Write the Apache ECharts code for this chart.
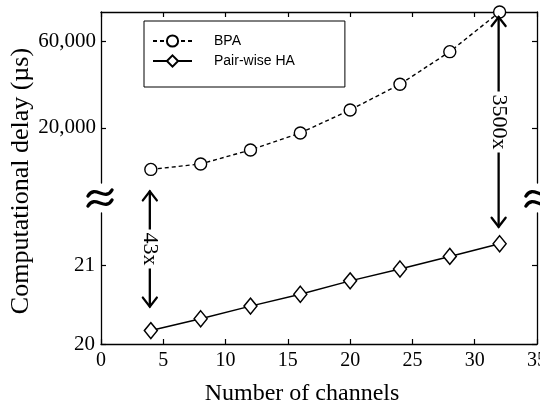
<!DOCTYPE html>
<html><head><meta charset="utf-8">
<script src="https://cdn.jsdelivr.net/npm/echarts@6/dist/echarts.min.js"></script>
<style>html,body{margin:0;padding:0;background:#fff}#c{width:540px;height:408px}</style>
</head><body><div id="c"></div>
<script>
const channels = [4, 8, 12, 16, 20, 24, 28, 32];
const bpa = [870, 3390, 9850, 17700, 28300, 40150, 55200, 73500];
const pairwiseHA = [20.17, 20.32, 20.48, 20.63, 20.80, 20.95, 21.11, 21.27];
const topYTicks = [20000, 60000];
const bottomYTicks = [20, 21];
const ratioLabels = ['43x', '3500x'];

const SERIF = '"Liberation Serif","Times New Roman",serif';
const chart = echarts.init(document.getElementById('c'), null, {renderer: 'canvas'});
const lineStyle = {color: '#000', width: 1.3};
const tickIn = {show: true, inside: true, length: 5, lineStyle: {color: '#000', width: 1.2}};
function fmt(v) { return String(v).replace(/\B(?=(\d{3})+(?!\d))/g, ','); }

const baseX = {type: 'value', min: 0, max: 35, interval: 5, splitLine: {show: false},
  axisLine: {show: true, onZero: false, lineStyle: lineStyle}, axisTick: tickIn};

chart.setOption({
  backgroundColor: '#fff',
  animation: false,
  grid: [
    {left: 101, right: 3, top: 12, height: 171, outerBoundsMode: 'none', containLabel: false},
    {left: 101, right: 3, top: 213, height: 131, outerBoundsMode: 'none', containLabel: false}
  ],
  xAxis: [
    Object.assign({}, baseX, {gridIndex: 0, position: 'top', axisLabel: {show: false}}),
    Object.assign({}, baseX, {gridIndex: 1, position: 'bottom',
      axisLabel: {show: true, color: '#000', fontFamily: SERIF, fontSize: 20, margin: 7}})
  ],
  yAxis: [
    {type: 'value', gridIndex: 0, position: 'left', min: -5400, max: 73500, splitLine: {show: false},
      axisLine: {show: true, onZero: false, lineStyle: lineStyle},
      axisTick: Object.assign({}, tickIn, {customValues: topYTicks}),
      axisLabel: {customValues: topYTicks, formatter: fmt, color: '#000', fontFamily: SERIF, fontSize: 21, margin: 5}},
    {type: 'value', gridIndex: 0, position: 'right', min: -5400, max: 73500, splitLine: {show: false},
      axisLine: {show: true, onZero: false, lineStyle: lineStyle},
      axisTick: Object.assign({}, tickIn, {customValues: topYTicks}),
      axisLabel: {show: false}},
    {type: 'value', gridIndex: 1, position: 'left', min: 20, max: 21.66, splitLine: {show: false},
      axisLine: {show: true, onZero: false, lineStyle: lineStyle},
      axisTick: Object.assign({}, tickIn, {customValues: bottomYTicks}),
      axisLabel: {customValues: bottomYTicks, color: '#000', fontFamily: SERIF, fontSize: 21, margin: 6}},
    {type: 'value', gridIndex: 1, position: 'right', min: 20, max: 21.66, splitLine: {show: false},
      axisLine: {show: true, onZero: false, lineStyle: lineStyle},
      axisTick: Object.assign({}, tickIn, {customValues: bottomYTicks}),
      axisLabel: {show: false}}
  ],
  legend: {
    left: 144, top: 21, orient: 'vertical', itemWidth: 39, itemHeight: 14, itemGap: 6,
    padding: [13, 50, 19, 8], borderColor: '#000', borderWidth: 1, backgroundColor: '#fff',
    textStyle: {color: '#000', fontFamily: '"Liberation Sans",Arial,sans-serif', fontSize: 14, padding: [0, 0, 0, 17]},
    data: ['BPA', 'Pair-wise HA']
  },
  series: [
    {name: 'BPA', type: 'line', xAxisIndex: 0, yAxisIndex: 0, clip: false,
      data: channels.map((c, i) => [c, bpa[i]]),
      symbol: 'circle', symbolSize: 12,
      lineStyle: {color: '#000', width: 1.4, type: [4, 3]},
      itemStyle: {color: '#fff', borderColor: '#000', borderWidth: 1.4}},
    {name: 'Pair-wise HA', type: 'line', xAxisIndex: 1, yAxisIndex: 2, clip: false,
      data: channels.map((c, i) => [c, pairwiseHA[i]]),
      symbol: 'diamond', symbolSize: [13, 16],
      lineStyle: {color: '#000', width: 1.5},
      itemStyle: {color: '#fff', borderColor: '#000', borderWidth: 1.5}}
  ]
});

function arrow(x, yTop, yBot, label) {
  const els = [];
  const st = {stroke: '#000', lineWidth: 2.3, fill: null, lineCap: 'round', lineJoin: 'miter'};
  els.push({type: 'line', shape: {x1: x, y1: yTop, x2: x, y2: yBot}, style: st, z: 50});
  els.push({type: 'polyline', shape: {points: [[x - 7, yTop + 9], [x, yTop], [x + 7, yTop + 9]]}, style: st, z: 51});
  els.push({type: 'polyline', shape: {points: [[x - 7, yBot - 9], [x, yBot], [x + 7, yBot - 9]]}, style: st, z: 51});
  els.push({type: 'text', x: x, y: (yTop + yBot) / 2, rotation: -Math.PI / 2, z: 52,
    style: {text: label, fill: '#000', font: '22px ' + SERIF, align: 'center', verticalAlign: 'middle',
      backgroundColor: '#fff', padding: [0, 3]}});
  return els;
}
function tilde(cx, cy) {
  return {type: 'bezierCurve', z: 60,
    shape: {x1: cx - 12, y1: cy + 3, cpx1: cx - 5, cpy1: cy - 9, cpx2: cx + 5, cpy2: cy + 9, x2: cx + 12, y2: cy - 3},
    style: {stroke: '#000', lineWidth: 3.4, fill: null, lineCap: 'round'}};
}

const pTop = (x, v) => chart.convertToPixel({xAxisIndex: 0, yAxisIndex: 0}, [x, v]);
const pBot = (x, v) => chart.convertToPixel({xAxisIndex: 1, yAxisIndex: 2}, [x, v]);
const a1x = pBot(channels[0], pairwiseHA[0]);
const a2x = pBot(channels[7], pairwiseHA[7]);
const a1 = arrow(a1x[0] - 1, pTop(channels[0], bpa[0])[1] + 22, a1x[1] - 24, ratioLabels[0]);
const a2 = arrow(a2x[0] - 1, pTop(channels[7], bpa[7])[1] + 5, a2x[1] - 17, ratioLabels[1]);
const leftX = pBot(0, 20)[0], rightX = pBot(35, 20)[0];

chart.setOption({
  graphic: [].concat(a1, a2, [
    tilde(leftX - 1, 193), tilde(leftX - 1, 203),
    tilde(rightX + 1, 193), tilde(rightX + 1, 203),
    {type: 'text', x: 302, y: 394, style: {text: 'Number of channels', fill: '#000', font: '24px ' + SERIF, align: 'center', verticalAlign: 'middle'}},
    {type: 'text', x: 21, y: 181, rotation: Math.PI / 2, style: {text: 'Computational delay (\u00b5s)', fill: '#000', font: '26px ' + SERIF, align: 'center', verticalAlign: 'middle'}}
  ])
});
</script></body></html>
